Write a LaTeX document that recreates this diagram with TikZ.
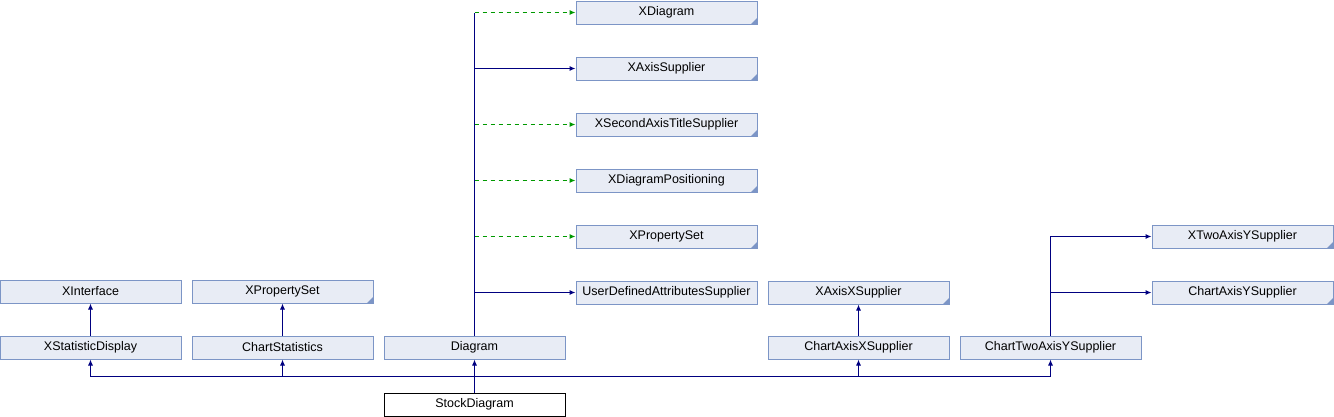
\documentclass[tikz,border=0pt]{standalone}
\usepackage{fontspec}
\setmainfont{Liberation Sans}
\usepackage{tikz}
\usetikzlibrary{positioning, arrows.meta, calc}

\tikzset{
  cls/.style={draw=clsEdge, fill=clsFill, line width=1pt, minimum width=181pt, minimum height=23pt, inner sep=0pt},
  extcls/.style={cls, path picture={\fill[clsEdge] (path picture bounding box.south east) -- ++(-6pt,0) -- ++(6pt,6pt) -- cycle;}},
  leafcls/.style={draw=black, fill=white, line width=1pt, minimum width=181pt, minimum height=23pt, inner sep=0pt},
  pub/.style={draw=inhBlue, line width=1pt, -{Latex[length=6pt,width=5pt]}},
  uses/.style={draw=useGreen, line width=1pt, dash pattern=on 4pt off 4pt, -{Latex[length=6pt,width=5pt]}},
  trunk/.style={draw=inhBlue, line width=1pt}
}

\begin{document}
\begin{tikzpicture}[x=1pt, y=-1pt, font=\fontsize{12.5}{14}\selectfont]
\definecolor{clsFill}{HTML}{E8ECF5}
\definecolor{clsEdge}{HTML}{7C95C6}
\definecolor{inhBlue}{HTML}{000080}
\definecolor{useGreen}{HTML}{009900}
\useasboundingbox (0,0) rectangle (1334,416);
% top column of interfaces
\node[extcls] (xdiag)  at (666.5, 12.5) {XDiagram};
\node[extcls] (xaxis)  at (666.5, 68.5) {XAxisSupplier};
\node[extcls] (xsec)   at (666.5,124.5) {XSecondAxisTitleSupplier};
\node[extcls] (xpos)   at (666.5,180.5) {XDiagramPositioning};
\node[extcls] (xprop)  at (666.5,236.5) {XPropertySet};
\node[cls]    (udas)   at (666.5,292.5) {UserDefinedAttributesSupplier};
% right side
\node[extcls] (xtwo)   at (1242.5,236.5) {XTwoAxisYSupplier};
\node[extcls] (cays)   at (1242.5,292.5) {ChartAxisYSupplier};
\node[extcls] (xaxx)   at (858.5,292.5) {XAxisXSupplier};
% left side
\node[cls]    (xif)    at (90.5,291.5) {XInterface};
\node[extcls] (xprop2) at (282.5,291.5) {XPropertySet};
% direct bases
\node[cls] (xstat)  at (90.5,347.5)  {XStatisticDisplay};
\node[cls] (cstat)  at (282.5,347.5) {ChartStatistics};
\node[cls] (diag)   at (474.5,347.5) {Diagram};
\node[cls] (caxx)   at (858.5,347.5) {ChartAxisXSupplier};
\node[cls] (ctwo)   at (1050.5,347.5) {ChartTwoAxisYSupplier};
\node[leafcls] (stock) at (474.5,404.5) {StockDiagram};
% bus above StockDiagram
\coordinate (bus) at (474.5,376);
\draw[trunk] (stock) -- (bus);
\foreach \b in {xstat, cstat, diag, caxx, ctwo}
  \draw[pub] (bus) -| (\b);
\draw[pub] (xstat) -- (xif);
\draw[pub] (cstat) -- (xprop2);
\draw[pub] (caxx) -- (xaxx);
% Diagram trunk
\draw[trunk] (diag) -- (diag |- xdiag);
\draw[uses] (diag |- xdiag) -- (xdiag);
\draw[pub]  (diag |- xaxis) -- (xaxis);
\draw[uses] (diag |- xsec) -- (xsec);
\draw[uses] (diag |- xpos) -- (xpos);
\draw[uses] (diag |- xprop) -- (xprop);
\draw[pub]  (diag |- udas) -- (udas);
% ChartTwoAxisYSupplier
\draw[pub] (ctwo) |- (xtwo);
\draw[pub] (ctwo |- cays) -- (cays);
\end{tikzpicture}
\end{document}
